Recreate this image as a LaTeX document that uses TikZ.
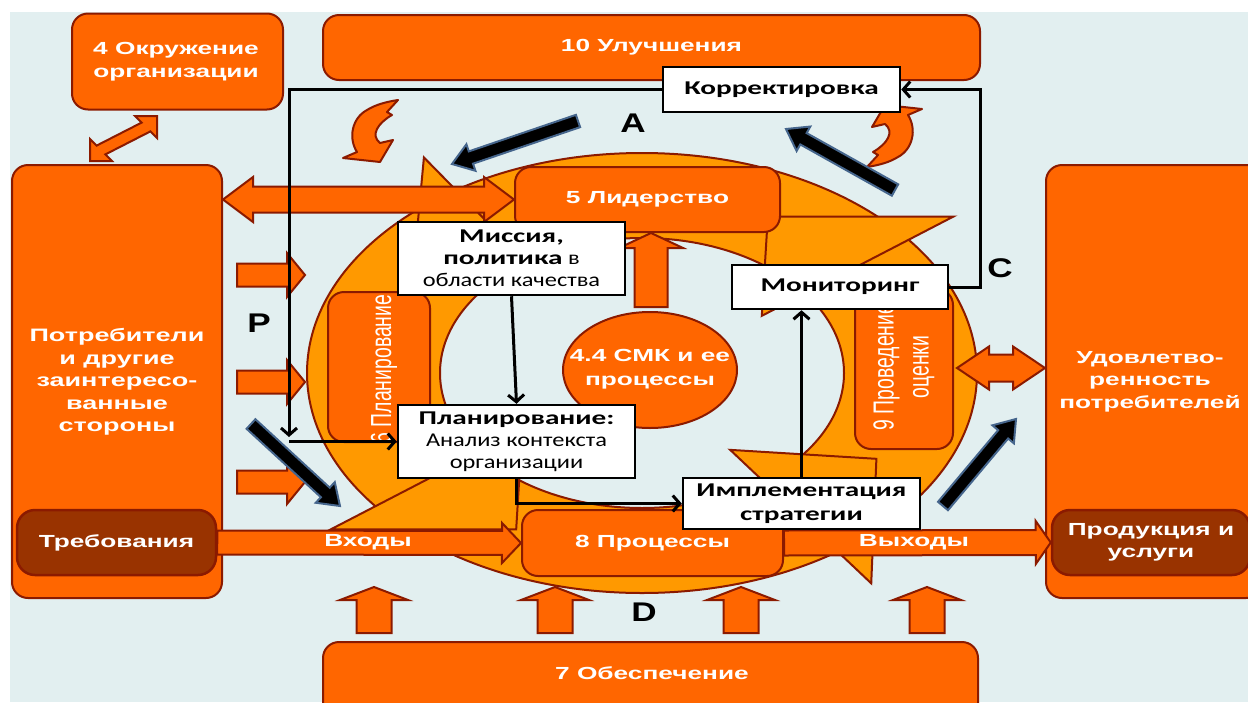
\documentclass[tikz,border=0pt]{standalone}
\usepackage{fontspec}
\setmainfont{Liberation Sans}
\newfontfamily\labfont{Liberation Sans}[FakeStretch=1.5]
\newfontfamily\boxbf{Carlito}[FakeStretch=1.5]
\newfontfamily\boxrg{Carlito}[FakeStretch=1.25]
\newfontfamily\rotfont{Liberation Sans}[FakeStretch=0.67]
\newfontfamily\letfont{Liberation Sans}[FakeStretch=1.3]
\newcommand\bx[1]{{\boxbf\bfseries #1}}
\usetikzlibrary{arrows.meta,calc,shapes.geometric}

\definecolor{bgc}{HTML}{E2EFF0}
\definecolor{org}{HTML}{FF6600}
\definecolor{ringc}{HTML}{FF9900}
\definecolor{edge}{HTML}{8B1A00}
\definecolor{brn}{HTML}{993300}
\definecolor{steel}{HTML}{45658C}

% block arrow: style, from, to, half shaft width, half head width, head length
\newcommand\blockarrow[6]{%
  \coordinate (ba-h) at ($(#3)!#6!(#2)$);
  \path[#1] ($(#2)!#4!90:(#3)$) -- ($(ba-h)!#4!-90:(#2)$) -- ($(ba-h)!#5!-90:(#2)$)
    -- (#3) -- ($(ba-h)!#5!90:(#2)$) -- ($(ba-h)!#4!90:(#2)$) -- ($(#2)!#4!-90:(#3)$) -- cycle;}
% double-headed block arrow
\newcommand\dblarrow[6]{%
  \coordinate (da-a) at ($(#2)!#6!(#3)$);
  \coordinate (da-b) at ($(#3)!#6!(#2)$);
  \path[#1] (#2) -- ($(da-a)!#5!90:(#3)$) -- ($(da-a)!#4!90:(#3)$) -- ($(da-b)!#4!-90:(#2)$)
    -- ($(da-b)!#5!-90:(#2)$) -- (#3) -- ($(da-b)!#5!90:(#2)$) -- ($(da-b)!#4!90:(#2)$)
    -- ($(da-a)!#4!-90:(#3)$) -- ($(da-a)!#5!-90:(#3)$) -- cycle;}
% head of the cycle ring: base angle, tip angle
\newcommand\ringhead[2]{%
  \path[ringst] ({642+390*cos(#1)},{373-260*sin(#1)}) -- ({642+268*cos(#2)},{373-177*sin(#2)})
    -- ({642+150*cos(#1)},{373-95*sin(#1)}) -- cycle;}

\begin{document}
\begin{tikzpicture}[x=1pt,y=-1pt,
  obox/.style={draw=edge,line width=2pt,fill=org,rounded corners=16pt,inner sep=0pt},
  dbox/.style={draw=edge,line width=2.5pt,fill=brn,rounded corners=18pt,inner sep=0pt},
  wbox/.style={draw=black,line width=2.5pt,fill=white,inner sep=0pt,align=center,
    font=\boxrg\fontsize{19.5}{22}\selectfont},
  wboxb/.style={wbox,font=\boxbf\bfseries\fontsize{19.5}{24}\selectfont},
  lab/.style={text=white,align=center,font=\labfont\bfseries\fontsize{17.5}{22.5}\selectfont},
  rotlab/.style={text=white,align=center,rotate=90,font=\rotfont\fontsize{29}{35}\selectfont},
  oarr/.style={draw=edge,line width=2pt,fill=org,line join=miter},
  barr/.style={draw=steel,line width=2pt,fill=black,line join=miter},
  conn/.style={draw=black,line width=3pt,-{Straight Barb[length=7pt,width=16pt]}},
  ringst/.style={draw=edge,line width=2pt,fill=ringc,line join=miter},
  letter/.style={font=\letfont\bfseries\fontsize{27}{27}\selectfont,text=black},
  curl/.pic={\path[oarr,line join=round] (28,-33) -- (17,-21) -- (22,-18)
    .. controls (8,-10) and (0,2) .. (10,10) -- (23,7) -- (10,29) -- (-27,25) -- (-13,19)
    .. controls (-22,5) and (-18,-15) .. (-3,-23) .. controls (5,-28) and (15,-31) .. (28,-33) -- cycle;}
]
\useasboundingbox (0,0) rectangle (1248,702);
\fill[white] (0,0) rectangle (1248,702);
\fill[bgc] (10,12) rectangle (1248,702);

% the PDCA cycle ring
\path[ringst,even odd rule] (642,373) ellipse [x radius=335pt,y radius=220pt]
  (642,373) ellipse [x radius=202pt,y radius=135pt];
\ringhead{37}{62}
\ringhead{124}{149}
\ringhead{217}{242}
\ringhead{306}{331}

% curved arrows beside the improvement loop
\pic at (370,133) {curl};
\pic[rotate=180] at (895,134) {curl};

% orange blocks
\node[obox,minimum width=211pt,minimum height=96pt] (env) at (177.5,61.5) {};
\node[lab] at (176,61.5) {4 Окружение\\организации};
\node[obox,minimum width=657pt,minimum height=65pt,lab] (impr) at (651.5,47.5) {10 Улучшения};
\node[obox,minimum width=210pt,minimum height=433pt] (stake) at (117,381.5) {};
\node[lab,font=\labfont\bfseries\fontsize{18}{22.5}\selectfont] at (117,382)
  {Потребители\\и другие\\заинтересо-\\ванные\\стороны};
\node[dbox,minimum width=199pt,minimum height=65pt,lab] (req) at (116.5,542.5) {Требования};
\node[obox,minimum width=216pt,minimum height=433pt] (sat) at (1154,381.5) {};
\node[lab] at (1150,381.5) {Удовлетво-\\ренность\\потребителей};
\node[dbox,minimum width=198pt,minimum height=65pt,lab] (prod) at (1151,542.5) {Продукция и\\услуги};
\node[obox,minimum width=655pt,minimum height=100pt] (supp) at (650.5,692) {};
\node[lab] at (652,673) {7 Обеспечение};
\node[obox,minimum width=265pt,minimum height=65pt,lab] (lead) at (647.5,199.5) {5 Лидерство};
\node[obox,minimum width=261pt,minimum height=66pt,lab] (proc) at (652.5,543) {8 Процессы};
\node[obox,minimum width=102pt,minimum height=150pt] (plan6) at (379,367) {};
\begin{scope}
  \clip (328,292) rectangle (430,442);
  \node[rotlab] at (384,369) {6 Планирование};
\end{scope}
\node[obox,minimum width=98pt,minimum height=160pt] (eval) at (904,369) {};
\node[rotlab] at (904,367) {9 Проведение\\оценки};
\node[ellipse,draw=edge,line width=2pt,fill=org,minimum width=174pt,minimum height=116pt,
  inner sep=0pt] (smk) at (650,370) {};
\node[lab,font=\labfont\bfseries\fontsize{17.5}{24}\selectfont] at (650,369) {4.4 СМК и ее\\процессы};

% orange block arrows
\path[oarr] (90,161) -- (90,139) -- (96.6,145.6) -- (141.6,122.6) -- (135,116) -- (157,116)
  -- (157,138) -- (150.4,131.4) -- (105.4,154.4) -- (112,161) -- cycle;
\coordinate (ldA) at (stake.east |- lead.west);
\dblarrow{oarr}{ldA}{lead.west}{13pt}{22.5pt}{30pt}
\foreach \yy/\nm in {275/s1,382/s2,482/s3}{
  \coordinate (\nm a) at (237,\yy);
  \coordinate (\nm b) at (305,\yy);
  \blockarrow{oarr}{\nm a}{\nm b}{11.5pt}{22pt}{18pt}
}
\blockarrow{oarr}{req.east}{proc.west}{12pt}{20pt}{19pt}
\node[lab] at (368,542) {Входы};
\blockarrow{oarr}{proc.east}{prod.west}{12.5pt}{21.5pt}{15pt}
\node[lab] at (914,542) {Выходы};
\coordinate (smkTop) at (651,307);
\coordinate (leadBot) at (651,233);
\blockarrow{oarr}{smkTop}{leadBot}{16.5pt}{32pt}{15pt}
\foreach \xx/\nm in {374/u1,555/u2,741/u3,927/u4}{
  \coordinate (\nm a) at (\xx,633);
  \coordinate (\nm b) at (\xx,587);
  \blockarrow{oarr}{\nm a}{\nm b}{17.5pt}{34pt}{13pt}
}
\coordinate (evR) at (957,368);
\coordinate (satL) at (sat.west |- evR);
\dblarrow{oarr}{evR}{satL}{13.5pt}{21.5pt}{32pt}

% white process boxes
\node[wboxb,minimum width=237pt,minimum height=45pt] (kor) at (781.5,89.5) {Корректировка};
\node[wboxb,minimum width=216pt,minimum height=44pt] (mon) at (840,287) {Мониторинг};
\node[wbox,minimum width=227pt,minimum height=73pt] (mis) at (511.5,258.5)
  {\bx{Миссия,}\\\bx{политика} в\\области качества};
\node[wbox,minimum width=237pt,minimum height=73pt] (plan) at (516.5,441.5)
  {\bx{Планирование:}\\Анализ контекста\\организации};
\node[wboxb,minimum width=237pt,minimum height=51pt] (impl) at (801.5,503.5) {Имплементация\\стратегии};

% thin connectors of the planning loop
\coordinate (cR) at ($(kor.east)+(79,0)$);
\draw[conn] (mon.east) -| (cR) -- (kor.east);
\coordinate (pL) at (289,437);
\coordinate (pC) at (289,441.5);
\draw[conn] (kor.west) -| (pL);
\draw[conn] (pC) -- (plan.west);
\draw[conn] (mis.south) -- (plan.north);
\draw[conn] (plan.south) |- (impl.west);
\draw[conn] (impl.north) -- (impl.north |- mon.south);

% black block arrows
\coordinate (k1a) at (578,121); \coordinate (k1b) at (452,164);
\coordinate (k2a) at (895,190); \coordinate (k2b) at (786,129);
\coordinate (k3a) at (251,424); \coordinate (k3b) at (340,506);
\coordinate (k4a) at (943,506); \coordinate (k4b) at (1016,419);
\blockarrow{barr}{k1a}{k1b}{6.5pt}{14pt}{20pt}
\blockarrow{barr}{k2a}{k2b}{6.5pt}{14pt}{20pt}
\blockarrow{barr}{k3a}{k3b}{6.5pt}{14pt}{20pt}
\blockarrow{barr}{k4a}{k4b}{6.5pt}{14pt}{20pt}

% PDCA letters
\node[letter] (lA) at (633,123) {A};
\node[letter] (lP) at (259,323) {P};
\node[letter] (lC) at (1000,268) {C};
\node[letter] (lD) at (644,612) {D};
\end{tikzpicture}
\end{document}
